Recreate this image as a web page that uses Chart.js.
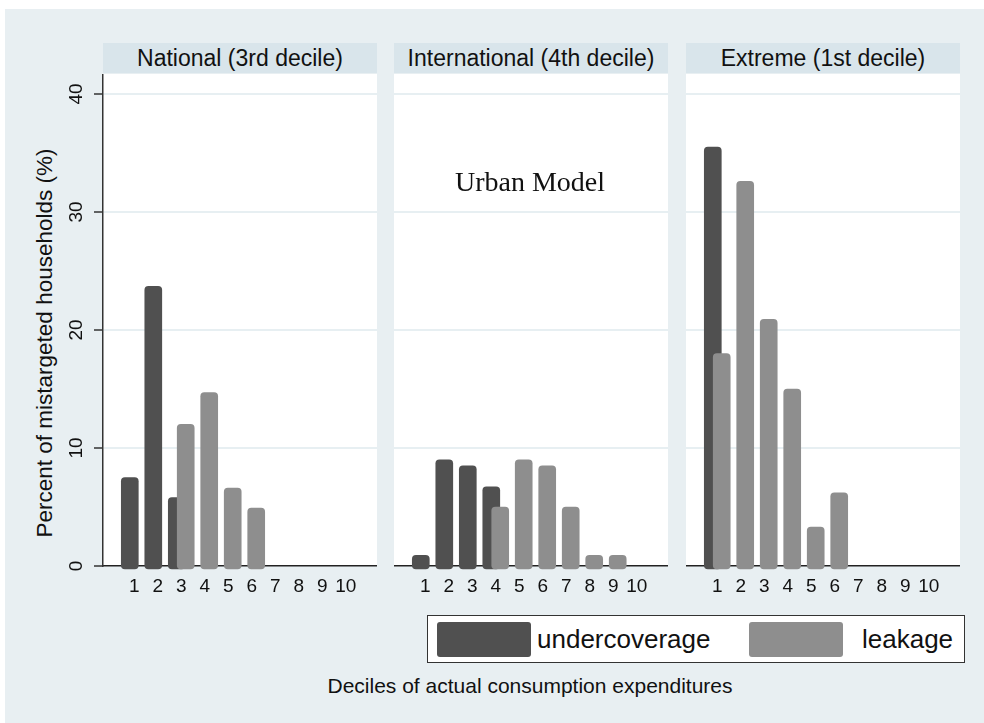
<!DOCTYPE html>
<html>
<head>
<meta charset="utf-8">
<script src="https://cdn.jsdelivr.net/npm/chart.js@4.4.0/dist/chart.umd.min.js"></script>
<style>
    body { margin: 0; width: 984px; height: 723px; background: #fff; position: relative; overflow: hidden;
           font-family: "Liberation Sans", Arial, sans-serif; color: #111; }
    #bg { position: absolute; left: 5px; top: 9px; width: 979px; height: 714px; background: #e8eff2; }
    .hdr { position: absolute; top: 43px; width: 274px; height: 30px; line-height: 31px; background: #d9e5eb;
           text-align: center; font-size: 23px; }
    .plot { position: absolute; top: 74px; width: 274px; height: 492px; background: #fff; }
    canvas { position: absolute; top: 74px; }
    #ytitle { position: absolute; left: -205px; top: 330px; width: 500px; text-align: center; font-size: 22.5px;
              transform: rotate(-90deg); }
    #xtitle { position: absolute; left: 230px; top: 674px; width: 600px; text-align: center; font-size: 21px; }
    #note { position: absolute; left: 400px; top: 166px; width: 260px; text-align: center;
            font-family: "Liberation Serif", "Times New Roman", serif; font-size: 28px; }
    #legend { position: absolute; left: 427px; top: 615px; width: 536px; height: 46px; background: #fff;
              border: 1px solid #333; font-size: 26px; }
    .sw { position: absolute; top: 6px; width: 94px; height: 35px; border-radius: 3px; }
    .lt { position: absolute; top: 8px; }
</style>
</head>
<body>
<div id="bg"></div>
<div id="ytitle">Percent of mistargeted households (%)</div>
<div id="xtitle">Deciles of actual consumption expenditures</div>
<div id="legend">
    <div class="sw" style="left:9px;background:#505050"></div>
    <div class="lt" style="left:109px">undercoverage</div>
    <div class="sw" style="left:321px;background:#8e8e8e"></div>
    <div class="lt" style="left:434px">leakage</div>
</div>

<script>
// 十分位
const deciles = [1, 2, 3, 4, 5, 6, 7, 8, 9, 10];
const yTicks = [0, 10, 20, 30, 40];
const panelTitles = ['National (3rd decile)', 'International (4th decile)', 'Extreme (1st decile)'];

// undercoverage (%) 各面板
const nationalUnder      = [7.5, 23.7, 5.8, 0, 0, 0, 0, 0, 0, 0];
const internationalUnder = [0.9, 9.0, 8.5, 6.7, 0, 0, 0, 0, 0, 0];
const extremeUnder       = [35.5, 0, 0, 0, 0, 0, 0, 0, 0, 0];

// leakage (%) 各面板
const nationalLeak      = [0, 0, 12.0, 14.7, 6.6, 4.9, 0, 0, 0, 0];
const internationalLeak = [0, 0, 0, 5.0, 9.0, 8.5, 5.0, 0.9, 0.9, 0];
const extremeLeak       = [18.0, 32.6, 20.9, 15.0, 3.3, 6.2, 0, 0, 0, 0];

const panelLefts = [103, 394, 686];
const PLOT_W = 274;
const Y_AXIS_W = 40;
const X_AXIS_H = 40;
const SHIFT = 0.19;
const FONT = '"Liberation Sans", Arial, sans-serif';

// 旋转的 y 轴刻度标签 (仅第一个面板)
const yLabelPlugin = {
    id: 'yLabels',
    afterDraw(chart) {
        const ctx = chart.ctx;
        const y = chart.scales.y;
        ctx.save();
        ctx.fillStyle = '#111';
        ctx.font = '19px ' + FONT;
        ctx.textAlign = 'center';
        ctx.textBaseline = 'middle';
        yTicks.forEach(v => {
            ctx.save();
            ctx.translate(chart.chartArea.left - 26, y.getPixelForValue(v));
            ctx.rotate(-Math.PI / 2);
            ctx.fillText(String(v), 0, 0);
            ctx.restore();
        });
        ctx.restore();
    }
};

function toPoints(values, shift) {
    return deciles.map((d, i) => ({ x: d + shift, y: values[i] === 0 ? null : values[i] }));
}

function createPanel(i, under, leak) {
    const first = i === 0;
    const left = panelLefts[i] - (first ? Y_AXIS_W : 0);
    const width = PLOT_W + (first ? Y_AXIS_W : 0);

    const plotBg = document.createElement('div');
    plotBg.className = 'plot';
    plotBg.style.left = panelLefts[i] + 'px';
    document.body.appendChild(plotBg);

    const hdr = document.createElement('div');
    hdr.className = 'hdr';
    hdr.style.left = panelLefts[i] + 'px';
    hdr.textContent = panelTitles[i];
    document.body.appendChild(hdr);

    const canvas = document.createElement('canvas');
    canvas.width = width;
    canvas.height = 492 + X_AXIS_H;
    canvas.style.left = left + 'px';
    document.body.appendChild(canvas);

    const barStyle = {
        barThickness: 17,
        grouped: false,
        borderRadius: 4,
        borderSkipped: false,
        base: -0.25,
        clip: false
    };

    new Chart(canvas.getContext('2d'), {
        type: 'bar',
        data: {
            datasets: [
                { label: 'leakage', data: toPoints(leak, SHIFT), backgroundColor: '#8e8e8e', order: 0, ...barStyle },
                { label: 'undercoverage', data: toPoints(under, -SHIFT), backgroundColor: '#505050', order: 1, ...barStyle }
            ]
        },
        options: {
            responsive: false,
            animation: false,
            layout: { padding: 0 },
            plugins: {
                legend: { display: false },
                tooltip: { enabled: false }
            },
            scales: {
                x: {
                    type: 'linear',
                    min: -0.33,
                    max: 11.33,
                    offset: false,
                    afterBuildTicks: axis => { axis.ticks = deciles.map(v => ({ value: v })); },
                    afterFit: axis => { axis.height = X_AXIS_H; },
                    grid: { display: false, offset: false },
                    border: { display: true, color: '#222', width: 1.5 },
                    ticks: {
                        color: '#111',
                        padding: 1,
                        maxRotation: 0,
                        autoSkip: false,
                        font: { size: 19, family: FONT }
                    }
                },
                y: {
                    min: 0,
                    max: 41.7,
                    afterBuildTicks: axis => { axis.ticks = yTicks.map(v => ({ value: v })); },
                    afterFit: axis => { axis.width = first ? Y_AXIS_W : 0; },
                    grid: {
                        color: c => c.tick && c.tick.value === 0 ? 'rgba(0,0,0,0)' : '#e7eff2',
                        lineWidth: 2,
                        drawTicks: first,
                        tickLength: 9,
                        tickColor: '#333',
                        tickWidth: 1.5
                    },
                    border: { display: first, color: '#333', width: 1.5 },
                    ticks: { display: false }
                }
            }
        },
        plugins: first ? [yLabelPlugin] : []
    });
}

createPanel(0, nationalUnder, nationalLeak);
createPanel(1, internationalUnder, internationalLeak);
createPanel(2, extremeUnder, extremeLeak);

const note = document.createElement('div');
note.id = 'note';
note.textContent = 'Urban Model';
document.body.appendChild(note);
</script>
</body>
</html>
